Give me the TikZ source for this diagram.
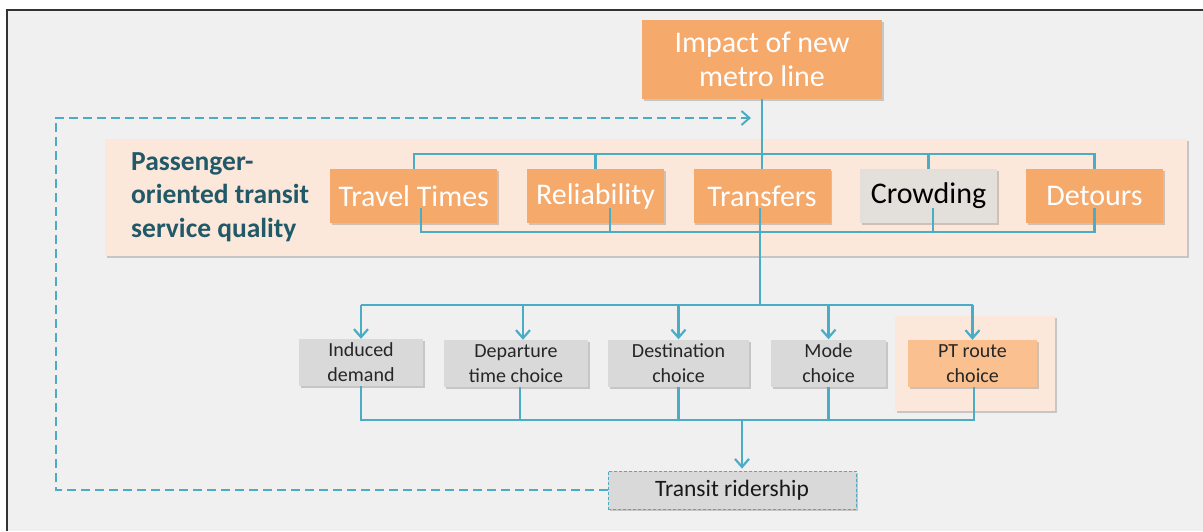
\documentclass[tikz,border=0pt]{standalone}
\usepackage{fontspec}
\setmainfont{Carlito}
\usetikzlibrary{arrows.meta,shadows}
\definecolor{bgc}{HTML}{F0F0F0}
\definecolor{orng}{HTML}{F5A96B}
\definecolor{peach}{HTML}{FCE8DA}
\definecolor{lineblue}{HTML}{4BACC6}
\definecolor{darkteal}{HTML}{215968}
\definecolor{graybox}{HTML}{D9D9D9}
\definecolor{crowdc}{HTML}{E3DFDB}
\definecolor{ptorange}{HTML}{FAC090}
\begin{document}
\begin{tikzpicture}[x=1pt,y=-1pt,
  shsh/.style={drop shadow={shadow xshift=1.5pt,shadow yshift=-2pt,opacity=0.25,fill=black!70}},
  bigbox/.style={shsh,fill=orng,text=white,inner sep=0pt,minimum height=54pt,minimum width=137pt,font=\fontsize{30}{34}\selectfont},
  smallbox/.style={shsh,fill=graybox,text=black!85,inner sep=0pt,minimum height=47pt,align=center,font=\fontsize{20}{25}\selectfont},
  conn/.style={draw=lineblue,line width=2.2pt},
  arr/.style={conn,-{Straight Barb[length=8pt,width=14pt,line width=2.2pt]}},
  fb/.style={draw=lineblue,line width=2pt,dash pattern=on 9pt off 5pt}
]
\useasboundingbox (0,0) rectangle (1203,531);
\fill[bgc] (7,10) rectangle (1203,531);
\draw[line width=1.5pt,black!80] (7,531) -- (7,10) -- (1203,10);

% band
\fill[peach,shsh] (105,139) rectangle (1187,256);
\node[anchor=west,align=left,text=darkteal,font=\fontsize{27.5}{33.5}\selectfont\bfseries,inner sep=0pt] (pq) at (131,197) {Passenger-\\oriented transit\\service quality};

% PT background
\fill[peach,shsh] (895,316) rectangle (1055,411);

% top node
\node[shsh,fill=orng,text=white,inner sep=0pt,minimum width=240pt,minimum height=79pt,align=center,font=\fontsize{30}{34}\selectfont] (impact) at (762,59.5) {Impact of new\\metro line};

% connector skeleton behind boxes
\coordinate (topbar) at (0,154);
\coordinate (botbar) at (0,232);
\coordinate (midbar) at (0,305);
\coordinate (lowbar) at (0,420);

% quality boxes
\node[bigbox,minimum width=167pt] (tt) at (413.75,196) {Travel Times};
\node[bigbox] (rel) at (595.5,196) {Reliability};
\node[bigbox] (trf) at (762,196) {Transfers};
\node[bigbox,fill=crowdc,text=black] (crw) at (928.5,196) {Crowding};
\node[bigbox] (det) at (1094.5,196) {Detours};

% top connectors
\draw[conn] (impact.south) -- (trf.north);
\draw[conn] (tt.north) -- (tt.north |- topbar) -- (det.north |- topbar) -- (det.north);
\draw[conn] (rel.north |- topbar) -- (rel.north);
\draw[conn] (crw.north |- topbar) -- (crw.north);

% bottom connectors (start inside boxes)
\draw[conn] ([xshift=7pt,yshift=15pt]tt.south) -- ([xshift=7pt]tt.south |- botbar) -- (det.south |- botbar) -- ([yshift=15pt]det.south);
\draw[conn] ([xshift=14.5pt,yshift=15pt]rel.south) -- ([xshift=14.5pt]rel.south |- botbar);
\draw[conn] ([xshift=4.5pt,yshift=15pt]crw.south) -- ([xshift=4.5pt]crw.south |- botbar);

% choice boxes
\node[smallbox,minimum width=124pt] (ind) at (361,362.5) {Induced\\demand};
\node[smallbox,minimum width=144pt] (dep) at (516,363.5) {Departure\\time choice};
\node[smallbox,minimum width=141pt] (dst) at (678.5,363) {Destination\\choice};
\node[smallbox,minimum width=115pt] (mod) at (828.5,363) {Mode\\choice};
\node[smallbox,minimum width=129pt,fill=ptorange] (ptr) at (972.5,363.5) {PT route\\choice};

% transfers down to mid bar
\draw[conn] ([xshift=-2pt,yshift=15pt]trf.south) -- ([xshift=-2pt]trf.south |- midbar);
\draw[conn] (ind.north |- midbar) -- (ptr.north |- midbar);
\draw[arr] (ind.north |- midbar) -- (ind.north);
\draw[arr] ([xshift=7pt]dep.north |- midbar) -- ([xshift=7pt]dep.north);
\draw[arr] (dst.north |- midbar) -- (dst.north);
\draw[arr] (mod.north |- midbar) -- (mod.north);
\draw[arr] (ptr.north |- midbar) -- (ptr.north);

% lower bar
\draw[conn] (ind.south) -- (ind.south |- lowbar) -- ([xshift=1.5pt]ptr.south |- lowbar) -- ([xshift=1.5pt]ptr.south);
\draw[conn] ([xshift=4pt]dep.south) -- ([xshift=4pt]dep.south |- lowbar);
\draw[conn] (dst.south) -- (dst.south |- lowbar);
\draw[conn] (mod.south) -- (mod.south |- lowbar);

% ridership
\node[shsh,fill=graybox,draw=lineblue,line width=0.8pt,dash pattern=on 3pt off 2pt,inner sep=0pt,minimum width=248pt,minimum height=38pt,font=\fontsize{23.5}{28}\selectfont,text=black!90] (rid) at (732,490) {Transit ridership};
\draw[arr] ([xshift=10pt]rid.north |- lowbar) -- ([xshift=10pt,yshift=2pt]rid.north);

% feedback loop
\coordinate (fbtip) at (751,118);
\coordinate (fbcorner) at (55.5,490);
\draw[fb,-{Straight Barb[length=8pt,width=14pt,line width=2pt]}] (rid.west) -- (fbcorner) -- (fbcorner |- fbtip) -- (fbtip);
\end{tikzpicture}
\end{document}
